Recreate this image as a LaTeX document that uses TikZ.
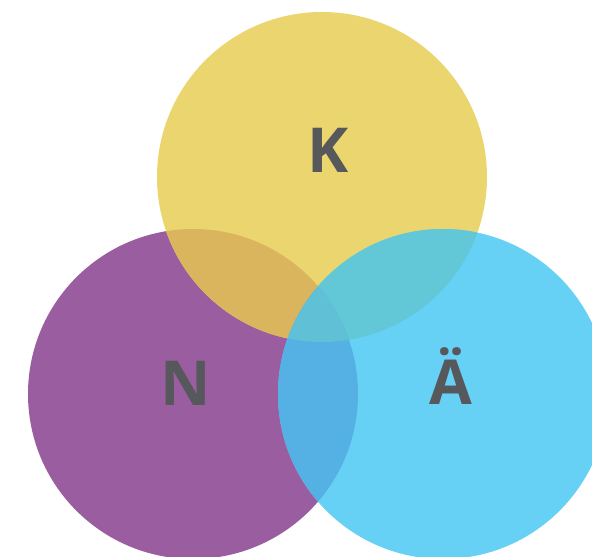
\documentclass[tikz,border=0pt]{standalone}
\usepackage{fontspec}
\setmainfont{Open Sans}
\definecolor{cyel}{HTML}{EBD56F}
\definecolor{cpur}{HTML}{9A5EA0}
\definecolor{cblu}{HTML}{66D1F4}
\definecolor{cyp}{HTML}{DAB55E}
\definecolor{cyb}{HTML}{62C8D7}
\definecolor{cpb}{HTML}{55B0E3}
\definecolor{cypb}{HTML}{5FC0D6}
\definecolor{ctxt}{HTML}{56585B}
\begin{document}
\begin{tikzpicture}[x=1pt,y=1pt,
  lbl/.style={anchor=base,text=ctxt,font=\bfseries\fontsize{62}{62}\selectfont,inner sep=0pt}]
\useasboundingbox (0,0) rectangle (592,557);
\clip (0,0) rectangle (592,557);
\coordinate (Y) at (322,380);
\coordinate (P) at (193,163);
\coordinate (B) at (443,163);
\fill[cpur] (P) circle (165);
\fill[cyel] (Y) circle (165);
\fill[cblu] (B) circle (165);
\begin{scope}
  \clip (Y) circle (165);
  \fill[cyp] (P) circle (165);
  \fill[cyb] (B) circle (165);
\end{scope}
\begin{scope}
  \clip (P) circle (165);
  \fill[cpb] (B) circle (165);
  \clip (B) circle (165);
  \fill[cypb] (Y) circle (165);
\end{scope}
\node[lbl] (k) at (328,384) {K};
\node[lbl] (n) at (185.5,151) {N};
\node[lbl] (a) at (451,152) {Ä};
\end{tikzpicture}
\end{document}
